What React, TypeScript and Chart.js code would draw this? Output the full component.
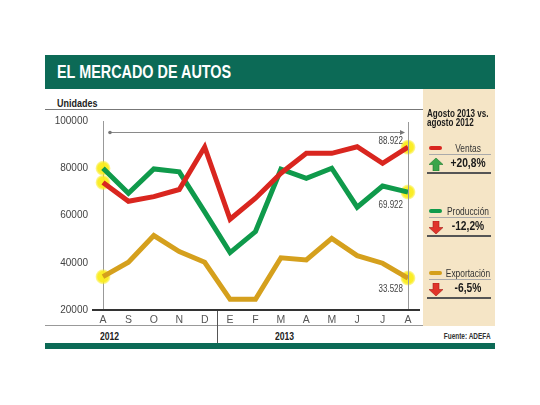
import React, { useEffect, useRef } from "react";
import { Chart, registerables } from "chart.js";

Chart.register(...registerables);

const months = ["A", "S", "O", "N", "D", "E", "F", "M", "A", "M", "J", "J", "A"];
const ventas = [74000, 66000, 68000, 71000, 89000, 58400, 67300, 77900, 86300, 86300, 89100, 82100, 88922];
const produccion = [80000, 69400, 79700, 78500, 61500, 44300, 53200, 79600, 75700, 80000, 63500, 72500, 69922];
const exportacion = [34100, 40200, 51500, 44700, 40200, 24500, 24500, 42100, 41200, 50300, 43000, 39800, 33528];
const yTicks = [20000, 40000, 60000, 80000, 100000];
const seriesNames = ["Ventas", "Producción", "Exportación"];
const seriesChanges = ["+20,8%", "-12,2%", "-6,5%"];
const seriesUp = [true, false, false];
const years = ["2012", "2013"];

const RED = "#d9261f";
const GREEN = "#0f9a4b";
const GOLD = "#d5a01d";
const COLORS = [RED, GREEN, GOLD];
const HEADER = "#0c6a56";
const BEIGE = "#f5e5c6";
const SANS = '"Liberation Sans", Arial, sans-serif';

function fmt(v: number) {
  return v.toString().replace(/\B(?=(\d{3})+(?!\d))/g, ".");
}

const decoPlugin = {
  id: "deco",
  beforeDatasetsDraw(chart: any) {
    const ctx = chart.ctx;
    ctx.save();
    chart.data.datasets.forEach((ds: any, i: number) => {
      const meta = chart.getDatasetMeta(i);
      const pts = [meta.data[0], meta.data[meta.data.length - 1]];
      pts.forEach((p: any) => {
        const g = ctx.createRadialGradient(p.x, p.y, 0, p.x, p.y, 7.5);
        g.addColorStop(0, "rgba(250,236,30,1)");
        g.addColorStop(0.7, "rgba(250,236,30,0.95)");
        g.addColorStop(1, "rgba(250,236,30,0.35)");
        ctx.beginPath();
        ctx.arc(p.x, p.y, 7.5, 0, Math.PI * 2);
        ctx.fillStyle = g;
        ctx.fill();
      });
    });
    ctx.restore();
  },
  afterDraw(chart: any) {
    const ctx = chart.ctx;
    const area = chart.chartArea;
    const x = chart.scales.x;
    ctx.save();
    const lastX = x.getPixelForValue(months.length - 1);
    ctx.strokeStyle = "#999";
    ctx.lineWidth = 1;
    ctx.beginPath();
    ctx.moveTo(Math.round(lastX) + 0.5, area.top + 1);
    ctx.lineTo(Math.round(lastX) + 0.5, area.bottom);
    ctx.stroke();
    // top period arrow
    const ty = area.top + 11.5;
    ctx.strokeStyle = "#8a8a8a";
    ctx.beginPath();
    ctx.moveTo(area.left + 7, ty);
    ctx.lineTo(lastX - 5, ty);
    ctx.stroke();
    ctx.fillStyle = "#777";
    ctx.beginPath();
    ctx.arc(area.left + 7, ty, 1.8, 0, Math.PI * 2);
    ctx.fill();
    ctx.beginPath();
    ctx.moveTo(lastX - 3, ty);
    ctx.lineTo(lastX - 8, ty - 2.5);
    ctx.lineTo(lastX - 8, ty + 2.5);
    ctx.closePath();
    ctx.fill();
    // divider between years
    const divX = Math.round((x.getPixelForValue(4) + x.getPixelForValue(5)) / 2) + 0.5;
    ctx.strokeStyle = "#555";
    ctx.beginPath();
    ctx.moveTo(divX, area.bottom);
    ctx.lineTo(divX, area.bottom + 33);
    ctx.stroke();
    // baseline
    ctx.strokeStyle = "#333";
    ctx.lineWidth = 2;
    ctx.beginPath();
    ctx.moveTo(area.left - 11, area.bottom);
    ctx.lineTo(lastX + 12, area.bottom);
    ctx.stroke();
    // value labels at last point (condensed)
    ctx.fillStyle = "#444";
    ctx.font = "10px " + SANS;
    ctx.textAlign = "right";
    ctx.textBaseline = "middle";
    const offsets = [-6, 13, 11];
    chart.data.datasets.forEach((ds: any, i: number) => {
      const meta = chart.getDatasetMeta(i);
      const p = meta.data[meta.data.length - 1];
      ctx.save();
      ctx.translate(p.x - 5, p.y + offsets[i]);
      ctx.scale(0.8, 1);
      ctx.fillText(fmt(ds.data[ds.data.length - 1]), 0, 0);
      ctx.restore();
    });
    ctx.restore();
  },
};

function Arrow({ up }: { up: boolean }) {
  const fill = up ? "#3aa54a" : "#e0342b";
  const dark = up ? "#1f7a2e" : "#a51d17";
  return (
    <svg width="14" height="13" viewBox="0 0 14 13">
      {up ? (
        <path d="M7 0 L14 6.5 L10 6.5 L10 13 L4 13 L4 6.5 L0 6.5 Z" fill={fill} stroke={dark} strokeWidth="0.6" />
      ) : (
        <path d="M7 13 L14 6.5 L10 6.5 L10 0 L4 0 L4 6.5 L0 6.5 Z" fill={fill} stroke={dark} strokeWidth="0.6" />
      )}
    </svg>
  );
}

function T(props: {
  x: number;
  y: number;
  size: number;
  bold?: boolean;
  color?: string;
  align?: "left" | "right" | "center";
  sx?: number;
  children: React.ReactNode;
}) {
  const { x, y, size, bold, color, align = "left", sx = 0.8, children } = props;
  const style: React.CSSProperties = {
    position: "absolute",
    top: y,
    fontFamily: SANS,
    fontSize: size,
    fontWeight: bold ? 700 : 400,
    color: color || "#222",
    lineHeight: `${Math.round(size * 1.2)}px`,
    whiteSpace: "nowrap",
    transform: `scaleX(${sx})`,
    transformOrigin: align === "right" ? "right center" : align === "center" ? "center center" : "left center",
  };
  if (align === "right") style.right = 540 - x;
  else if (align === "center") {
    style.left = x - 50;
    style.width = 100;
    style.textAlign = "center";
  } else style.left = x;
  return <div style={style}>{children}</div>;
}

export default function App() {
  const ref = useRef<HTMLCanvasElement>(null);

  useEffect(() => {
    if (!ref.current) return;
    const chart = new Chart(ref.current, {
      type: "line",
      data: {
        labels: months,
        datasets: [
          { label: seriesNames[0], data: ventas, borderColor: RED },
          { label: seriesNames[1], data: produccion, borderColor: GREEN },
          { label: seriesNames[2], data: exportacion, borderColor: GOLD },
        ].map((d) => ({ ...d, borderWidth: 5, pointRadius: 0, tension: 0, fill: false, borderJoinStyle: "miter" as const })),
      },
      options: {
        animation: false,
        responsive: false,
        maintainAspectRatio: false,
        devicePixelRatio: 1,
        layout: { padding: { left: 45, right: 132, top: 121, bottom: 75 } },
        plugins: { legend: { display: false }, tooltip: { enabled: false } },
        scales: {
          x: {
            offset: false,
            grid: { display: false, drawTicks: false },
            border: { display: false },
            ticks: { color: "#555", font: { family: SANS, size: 10.5 }, padding: 4, maxRotation: 0, autoSkip: false },
            afterFit: (s: any) => {
              s.height = 20;
            },
          },
          y: {
            min: yTicks[0],
            max: yTicks[yTicks.length - 1],
            afterBuildTicks: (s: any) => {
              s.ticks = yTicks.map((v) => ({ value: v }));
            },
            grid: { display: false, drawTicks: false },
            border: { display: true, color: "#999", width: 1 },
            ticks: {
              color: "#444",
              font: { family: SANS, size: 10 },
              padding: 15,
              callback: (v: any) => String(v),
            },
            afterFit: (s: any) => {
              s.width = 58;
            },
          },
        },
      },
      plugins: [decoPlugin],
    });
    return () => chart.destroy();
  }, []);

  const legendTops = [142, 205, 267];

  return (
    <div style={{ position: "fixed", left: 0, top: 0, width: 540, height: 405, background: "#fff", overflow: "hidden" }}>
      <div style={{ position: "absolute", left: 45, top: 55, width: 450, height: 34, background: HEADER }} />
      <T x={57} y={61} size={18} bold color="#fff" sx={0.8}>
        EL MERCADO DE AUTOS
      </T>
      <div style={{ position: "absolute", left: 423, top: 89, width: 72, height: 237, background: BEIGE }} />
      <T x={57} y={96} size={11.5} bold color="#222" sx={0.78}>
        Unidades
      </T>
      <div style={{ position: "absolute", left: 45, top: 109, width: 378, height: 1, background: "#777" }} />
      <div style={{ position: "absolute", left: 45, top: 325, width: 378, height: 1, background: "#999" }} />
      <T x={100} y={330} size={11} bold sx={0.78}>
        {years[0]}
      </T>
      <T x={275} y={330} size={11} bold sx={0.78}>
        {years[1]}
      </T>
      <T x={491} y={331} size={8.5} bold color="#333" align="right" sx={0.76}>
        Fuente: ADEFA
      </T>
      <div style={{ position: "absolute", left: 45, top: 343, width: 450, height: 6, background: HEADER }} />

      <canvas ref={ref} width={540} height={405} style={{ position: "absolute", left: 0, top: 0, width: 540, height: 405 }} />

      <T x={427} y={107} size={10.5} bold color="#1a1a1a" sx={0.77}>
        Agosto 2013 vs.
      </T>
      <T x={427} y={116} size={10.5} bold color="#1a1a1a" sx={0.77}>
        agosto 2012
      </T>
      {seriesNames.map((name, i) => (
        <React.Fragment key={name}>
          <div style={{ position: "absolute", left: 429, top: legendTops[i] + 4, width: 13, height: 4, borderRadius: 2, background: COLORS[i] }} />
          <T x={468} y={legendTops[i]} size={10.5} color="#333" align="center" sx={0.8}>
            {name}
          </T>
          <div style={{ position: "absolute", left: 429, top: legendTops[i] + 12, width: 62, height: 1, background: "#aaa" }} />
          <div style={{ position: "absolute", left: 429, top: legendTops[i] + 15 }}>
            <Arrow up={seriesUp[i]} />
          </div>
          <T x={468} y={legendTops[i] + 14} size={12.5} bold color="#1a1a1a" align="center" sx={0.82}>
            {seriesChanges[i]}
          </T>
          <div style={{ position: "absolute", left: 427, top: legendTops[i] + 30, width: 64, height: 2, background: "#555" }} />
        </React.Fragment>
      ))}
    </div>
  );
}
